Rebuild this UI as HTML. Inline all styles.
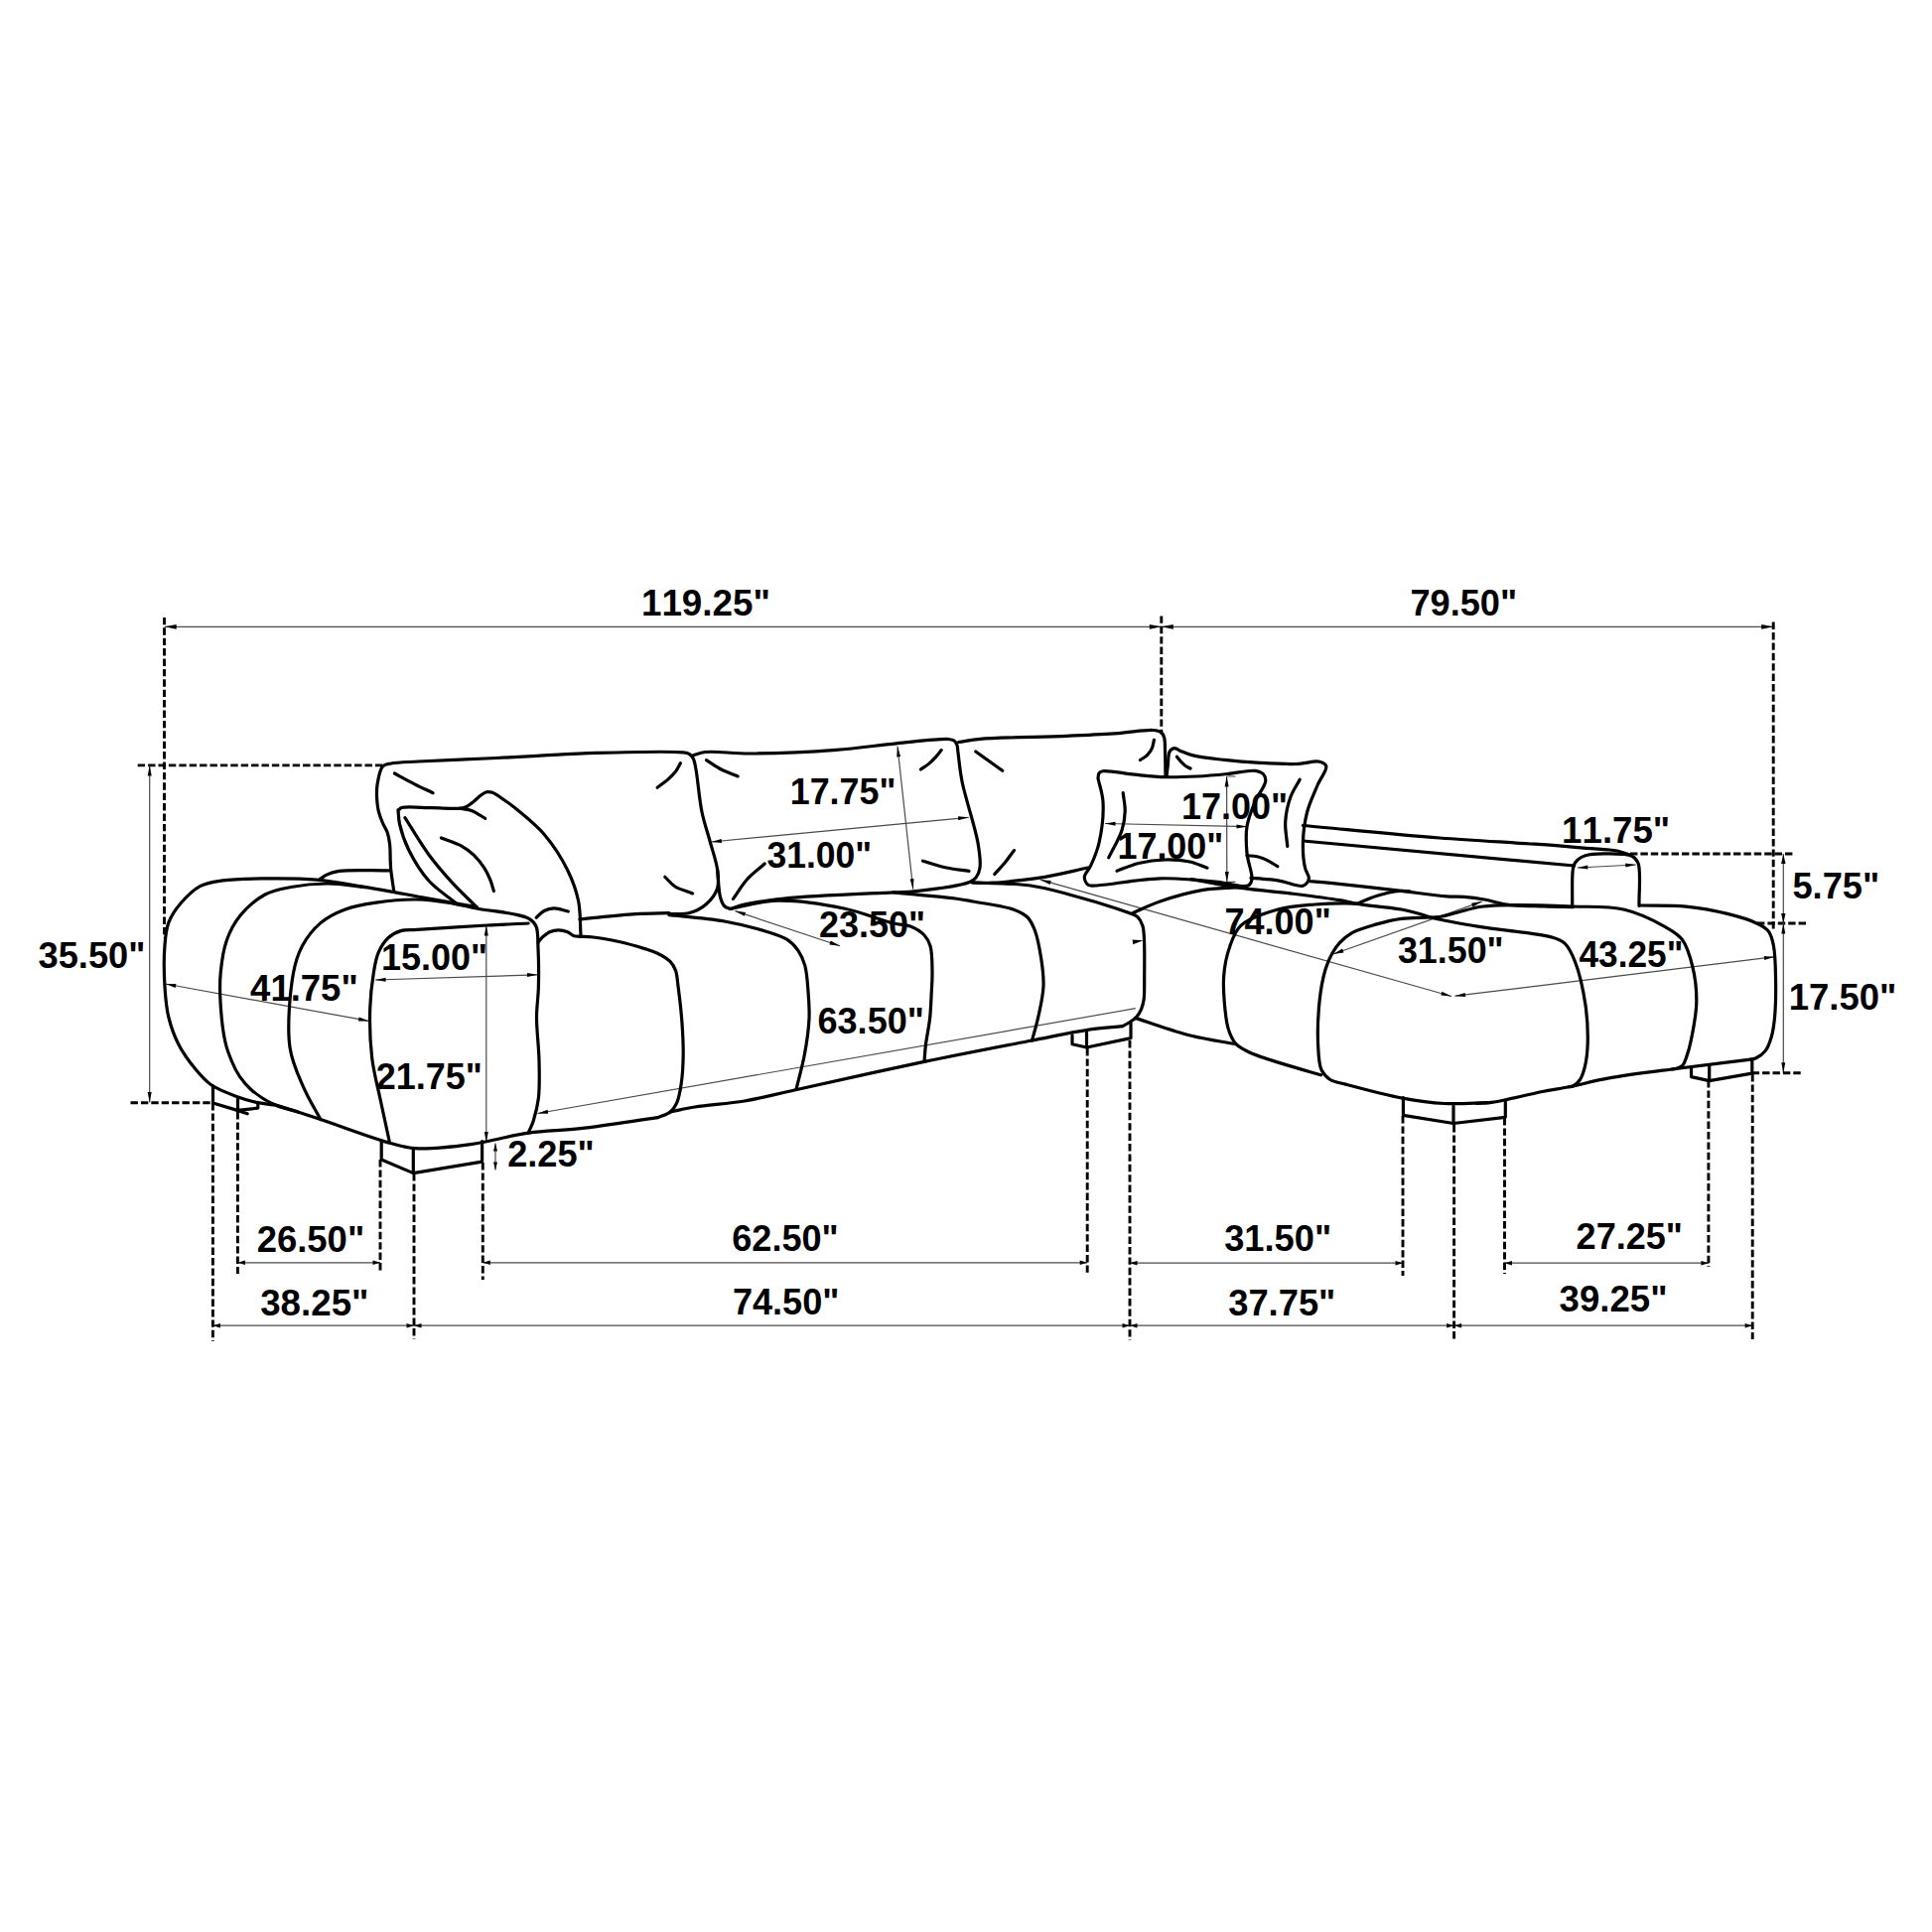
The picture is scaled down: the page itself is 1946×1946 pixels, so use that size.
<!DOCTYPE html>
<html><head><meta charset="utf-8"><style>
html,body{margin:0;padding:0;background:#fff;}
svg{display:block;}
path{fill:none;stroke:#000;stroke-linecap:round;stroke-linejoin:round;}
path.dl{stroke:#4a4a4a;stroke-width:1.2;stroke-linecap:butt;}
path.ah{fill:#000;stroke:none;}
path.ds{stroke:#000;stroke-width:2.9;stroke-dasharray:7.4 3;stroke-linecap:butt;}
text{font-family:"Liberation Sans",sans-serif;font-weight:bold;font-kerning:none;font-size:37.5px;fill:#000;}
</style></head><body>
<svg width="1946" height="1946" viewBox="0 0 1946 1946">
<rect width="1946" height="1946" fill="#fff"/>
<path class="dl" d="M165.7 631.3 L1169.8 631.3"/>
<path class="ah" d="M165.7 631.3 L177.7 628.9 L177.7 633.7 Z"/>
<path class="ah" d="M1169.8 631.3 L1157.8 633.7 L1157.8 628.9 Z"/>
<path class="dl" d="M1169.8 631.3 L1786.2 631.3"/>
<path class="ah" d="M1169.8 631.3 L1181.8 628.9 L1181.8 633.7 Z"/>
<path class="ah" d="M1786.2 631.3 L1774.2 633.7 L1774.2 628.9 Z"/>
<path class="ds" d="M165.5 621.9 L165.5 944.5"/>
<path class="ds" d="M1169.8 620.4 L1169.8 739.4"/>
<path class="ds" d="M1786.2 626.6 L1786.2 938.2"/>
<path class="ds" d="M138.7 770.9 L385.7 770.9"/>
<path class="dl" d="M150.7 771 L150.7 1110.5"/>
<path class="ah" d="M150.7 771 L152.7 781.5 L148.7 781.5 Z"/>
<path class="ah" d="M150.7 1110.5 L148.7 1100 L152.7 1100 Z"/>
<path class="ds" d="M131.5 1110.8 L214.3 1110.8"/>
<path class="ds" d="M1642 860 L1808 860"/>
<path class="ds" d="M1770 930 L1819.5 930"/>
<path class="dl" d="M1796.3 860 L1796.3 930"/>
<path class="ah" d="M1796.3 860 L1798.5 870 L1794.1 870 Z"/>
<path class="ah" d="M1796.3 930 L1794.1 920 L1798.5 920 Z"/>
<path class="dl" d="M1796.3 930 L1796.3 1080.8"/>
<path class="ah" d="M1796.3 930 L1798.3 940.5 L1794.3 940.5 Z"/>
<path class="ah" d="M1796.3 1080.8 L1794.3 1070.3 L1798.3 1070.3 Z"/>
<path class="ds" d="M1764.7 1080.8 L1815.4 1080.8"/>
<path class="dl" d="M239.5 1271.8 L383 1271.8"/>
<path class="ah" d="M239.5 1271.8 L247 1269.5 L247 1274.1 Z"/>
<path class="ah" d="M383 1271.8 L375.5 1274.1 L375.5 1269.5 Z"/>
<path class="dl" d="M486.3 1271.8 L1095.2 1271.8"/>
<path class="ah" d="M486.3 1271.8 L493.8 1269.5 L493.8 1274.1 Z"/>
<path class="ah" d="M1095.2 1271.8 L1087.7 1274.1 L1087.7 1269.5 Z"/>
<path class="dl" d="M1138 1272.2 L1413 1272.2"/>
<path class="ah" d="M1138 1272.2 L1145.5 1269.9 L1145.5 1274.5 Z"/>
<path class="ah" d="M1413 1272.2 L1405.5 1274.5 L1405.5 1269.9 Z"/>
<path class="dl" d="M1515.5 1272.2 L1720.9 1272.2"/>
<path class="ah" d="M1515.5 1272.2 L1523 1269.9 L1523 1274.5 Z"/>
<path class="ah" d="M1720.9 1272.2 L1713.4 1274.5 L1713.4 1269.9 Z"/>
<path class="dl" d="M214.4 1335.2 L417 1335.2"/>
<path class="ah" d="M214.4 1335.2 L221.9 1332.9 L221.9 1337.5 Z"/>
<path class="ah" d="M417 1335.2 L409.5 1337.5 L409.5 1332.9 Z"/>
<path class="dl" d="M417 1335.2 L1138 1335.2"/>
<path class="ah" d="M417 1335.2 L424.5 1332.9 L424.5 1337.5 Z"/>
<path class="ah" d="M1138 1335.2 L1130.5 1337.5 L1130.5 1332.9 Z"/>
<path class="dl" d="M1138 1335.2 L1464.6 1335.2"/>
<path class="ah" d="M1138 1335.2 L1145.5 1332.9 L1145.5 1337.5 Z"/>
<path class="ah" d="M1464.6 1335.2 L1457.1 1337.5 L1457.1 1332.9 Z"/>
<path class="dl" d="M1464.6 1335.2 L1765.2 1335.2"/>
<path class="ah" d="M1464.6 1335.2 L1472.1 1332.9 L1472.1 1337.5 Z"/>
<path class="ah" d="M1765.2 1335.2 L1757.7 1337.5 L1757.7 1332.9 Z"/>
<path class="ds" d="M214.4 1111 L214.4 1351"/>
<path class="ds" d="M239.4 1120 L239.4 1283"/>
<path class="ds" d="M383 1168 L383 1281"/>
<path class="ds" d="M417 1182 L417 1349"/>
<path class="ds" d="M486.3 1171 L486.3 1289"/>
<path class="ds" d="M1095.2 1056 L1095.2 1282"/>
<path class="ds" d="M1138 1048 L1138 1350"/>
<path class="ds" d="M1413 1124 L1413 1285"/>
<path class="ds" d="M1464.6 1133 L1464.6 1351"/>
<path class="ds" d="M1515.5 1126 L1515.5 1283"/>
<path class="ds" d="M1720.9 1088 L1720.9 1276"/>
<path class="ds" d="M1765.2 1082 L1765.2 1349"/>
<path class="dl" d="M904 751.8 L919.7 895.7"/>
<path class="ah" d="M904 751.8 L907.1 762 L903.2 762.5 Z"/>
<path class="ah" d="M919.7 895.7 L916.6 885.5 L920.5 885 Z"/>
<path class="dl" d="M716.4 848 L975.6 823.3"/>
<path class="ah" d="M716.4 848 L726.7 845 L727 849 Z"/>
<path class="ah" d="M975.6 823.3 L965.3 826.3 L965 822.3 Z"/>
<path class="dl" d="M740.4 917.6 L846 952.8"/>
<path class="ah" d="M740.4 917.6 L751 919 L749.7 922.8 Z"/>
<path class="ah" d="M846 952.8 L835.4 951.4 L836.7 947.6 Z"/>
<path class="dl" d="M378 987 L541.5 981.8"/>
<path class="ah" d="M378 987 L388.4 984.7 L388.6 988.7 Z"/>
<path class="ah" d="M541.5 981.8 L531.1 984.1 L530.9 980.1 Z"/>
<path class="dl" d="M166.7 991 L371.6 1028.4"/>
<path class="ah" d="M166.7 991 L177.4 990.9 L176.7 994.9 Z"/>
<path class="ah" d="M371.6 1028.4 L360.9 1028.5 L361.6 1024.5 Z"/>
<path class="dl" d="M489.8 932 L489.8 1150.5"/>
<path class="ah" d="M489.8 932 L491.8 942.5 L487.8 942.5 Z"/>
<path class="ah" d="M489.8 1150.5 L487.8 1140 L491.8 1140 Z"/>
<path class="dl" d="M499 1151.5 L499 1178.5"/>
<path class="ah" d="M499 1151.5 L501 1159.5 L497 1159.5 Z"/>
<path class="ah" d="M499 1178.5 L497 1170.5 L501 1170.5 Z"/>
<path class="dl" d="M541.5 1121.5 L1143.7 1015.7"/>
<path class="ah" d="M541.5 1121.5 L551.5 1117.7 L552.2 1121.7 Z"/>
<path class="ah" d="M1140.6 946.6 L1151.5 947.3 L1141.2 951.3 Z"/>
<path class="dl" d="M1113 829.5 L1256 832.6"/>
<path class="ah" d="M1113 829.5 L1123.5 827.7 L1123.5 831.7 Z"/>
<path class="ah" d="M1256 832.6 L1245.5 834.4 L1245.5 830.4 Z"/>
<path class="dl" d="M1235.6 781.9 L1235.8 888.4"/>
<path class="ah" d="M1235.6 781.9 L1237.6 792.4 L1233.6 792.4 Z"/>
<path class="ah" d="M1235.8 888.4 L1233.8 877.9 L1237.8 877.9 Z"/>
<path class="dl" d="M1235.7 782 L1244.5 782 M1235.8 888.4 L1244.5 888.4"/>
<path class="dl" d="M1048.1 886.2 L1462 1003.5"/>
<path class="ah" d="M1048.1 886.2 L1058.7 887.1 L1057.7 891 Z"/>
<path class="ah" d="M1462 1003.5 L1451.4 1002.6 L1452.4 998.7 Z"/>
<path class="dl" d="M1588.8 874 L1647.8 871"/>
<path class="ah" d="M1588.8 874 L1599.2 871.5 L1599.4 875.5 Z"/>
<path class="ah" d="M1647.8 871 L1637.4 873.5 L1637.2 869.5 Z"/>
<path class="dl" d="M1342.9 961 L1492.7 908.1"/>
<path class="ah" d="M1342.9 961 L1352.1 955.6 L1353.5 959.4 Z"/>
<path class="ah" d="M1492.7 908.1 L1483.5 913.5 L1482.1 909.7 Z"/>
<path class="dl" d="M1465.5 1003.2 L1787.5 963.8"/>
<path class="ah" d="M1465.5 1003.2 L1475.7 999.9 L1476.2 1003.9 Z"/>
<path class="ah" d="M1787.5 963.8 L1777.3 967.1 L1776.8 963.1 Z"/>
<text transform="translate(645.9 620) scale(0.982 1)">119.25&quot;</text>
<text transform="translate(1420.4 620.2) scale(0.965 1)">79.50&quot;</text>
<text transform="translate(38.5 974.5) scale(0.967 1)">35.50&quot;</text>
<text transform="translate(252.1 1007.5) scale(0.973 1)">41.75&quot;</text>
<text transform="translate(383.9 977.3) scale(0.960 1)">15.00&quot;</text>
<text transform="translate(378.7 1096.7) scale(0.960 1)">21.75&quot;</text>
<text transform="translate(511.2 1175.4) scale(0.965 1)">2.25&quot;</text>
<text transform="translate(795.7 810.1) scale(0.956 1)">17.75&quot;</text>
<text transform="translate(772.5 874.4) scale(0.947 1)">31.00&quot;</text>
<text transform="translate(825 944) scale(0.960 1)">23.50&quot;</text>
<text transform="translate(823.5 1041.1) scale(0.962 1)">63.50&quot;</text>
<text transform="translate(1189.9 824.8) scale(0.960 1)">17.00&quot;</text>
<text transform="translate(1125.4 865.2) scale(0.959 1)">17.00&quot;</text>
<text transform="translate(1233.5 941) scale(0.961 1)">74.00&quot;</text>
<text transform="translate(1573.1 849.4) scale(0.978 1)">11.75&quot;</text>
<text transform="translate(1805.4 905.3) scale(0.967 1)">5.75&quot;</text>
<text transform="translate(1407.9 969.7) scale(0.956 1)">31.50&quot;</text>
<text transform="translate(1590.5 973.8) scale(0.940 1)">43.25&quot;</text>
<text transform="translate(1801.7 1016.6) scale(0.974 1)">17.50&quot;</text>
<text transform="translate(258.7 1260.5) scale(0.972 1)">26.50&quot;</text>
<text transform="translate(737.3 1259.9) scale(0.962 1)">62.50&quot;</text>
<text transform="translate(1233.2 1260.1) scale(0.967 1)">31.50&quot;</text>
<text transform="translate(1587.6 1258.1) scale(0.962 1)">27.25&quot;</text>
<text transform="translate(262.2 1324.7) scale(0.979 1)">38.25&quot;</text>
<text transform="translate(737.9 1323.8) scale(0.963 1)">74.50&quot;</text>
<text transform="translate(1237.2 1324.7) scale(0.969 1)">37.75&quot;</text>
<text transform="translate(1570.6 1321.4) scale(0.976 1)">39.25&quot;</text>
<path d="M275.4 1113 C269.7 1112.1 264.1 1111.7 258.3 1110.4 C252 1109 245.8 1107.2 239 1104.7 C230.8 1101.7 220.1 1097.8 212.8 1092.8 C206.4 1088.4 202.1 1083.2 197 1077 C191 1069.7 184.2 1060.4 179.6 1051.4 C175.2 1042.7 172 1033.5 169.7 1024 C167.4 1014.4 166.7 1005 166 994.2 C165.2 981.4 165 963.8 166 952 C166.7 943.3 167.1 936.6 169.7 929.6 C172.4 922.5 176.9 915.8 182.1 909.8 C187.6 903.4 194.7 896.2 202 892.4 C208.8 888.8 215.5 888.2 224.3 886.9 C236.6 885.1 253.7 885.1 269 884.9 C285.1 884.7 302.3 884.7 318.8 886.1 C335.4 887.5 351 890.7 368.4 893.6 C388 896.8 411 901.3 430.6 904.8 C448.1 907.9 463.7 910.6 480.2 913.5" stroke-width="3.2"/>
<path d="M300 1120 C291.8 1117.4 283.2 1115.9 275.4 1112.2 C267.4 1108.4 258.6 1102.6 252.6 1097.3 C247.8 1093.1 244.5 1088.8 241.3 1084.2 C238.3 1079.7 236.1 1075.2 233.9 1070 C231.3 1064 228.8 1058 227 1050 C224.4 1038.9 222.7 1021.5 222 1009 C221.4 998.5 221.2 989.9 222.2 980 C223.2 969.3 224.8 957 228.4 947 C231.7 937.8 236 929.6 242.1 922.1 C248.6 914.1 258.1 905.8 267 901 C275.1 896.6 283.5 895.3 293 893.5 C304.2 891.4 317.6 890 330 890 C342.7 890 355.6 892.4 368.4 893.6" stroke-width="3.2"/>
<path d="M323 1127.7 C317.5 1117.4 311.3 1108 306.4 1096.7 C300.9 1084 294.3 1071.2 292 1055 C289 1033.9 292.1 998.5 295.5 980 C297.6 968.6 299.8 961.5 304.2 953.2 C308.8 944.6 315.5 935.9 322.9 929.6 C330.1 923.5 338.7 919.3 347.7 915.9 C357.2 912.3 367.6 910.7 378.8 909.1 C391.5 907.2 406.8 905.8 420 906 C432.2 906.2 444.3 908.1 455.3 909.8 C465 911.3 472.8 913.8 482.5 915.5 C493.4 917.4 508.2 918.6 517.4 920.7 C523.7 922.1 529 922.9 532.9 925.4 C536.1 927.4 538.4 929.4 540 933 C542.3 938.2 541.6 946.6 542 955 C542.6 966.1 542.7 981.8 542.4 994 C542.1 1004.9 540.5 1013.8 540.5 1025 C540.5 1038.2 542.7 1054.1 543 1068 C543.3 1081.1 543.7 1095.1 542.4 1106 C541.4 1114.5 539.4 1122 537.4 1128.4 C535.9 1133.3 533.9 1136.9 532.2 1141.2" stroke-width="3.2"/>
<path d="M532.2 930 C518.4 930.7 506.4 931.1 490.8 932 C470.3 933.1 435.3 935.4 420 936.4 C412.6 936.9 408.5 936.1 403.6 937.6 C399 939 394.8 941.2 391.2 944.5 C387.2 948.2 383.7 953.8 381.2 959.4 C378.5 965.5 377.6 972.1 376.3 980 C374.6 990.3 373.1 1003 372.7 1016 C372.2 1031.2 372.8 1049.9 374.7 1065.6 C376.4 1080.1 380.1 1093 383 1107 C386 1121.3 389.3 1136 392.4 1150.5" stroke-width="3.2"/>
<path d="M275.4 1112.2 C283.6 1114.8 291.9 1117.4 300 1120 C307.8 1122.5 313.3 1124.3 323 1127.5 C340.1 1133.2 375.8 1146.7 393.4 1151.5 C403.7 1154.3 408.3 1156 418.3 1156.7 C433.2 1157.7 455.5 1155.1 474.2 1152.6 C493.4 1150 513.3 1143.9 532.2 1141.2 C550.1 1138.7 565.5 1138.9 584.7 1136.7 C608.1 1134 636.4 1129.4 662.3 1125.7" stroke-width="3.2"/>
<path d="M321.6 886.1 C324.1 884.4 326.1 882.5 329 881.1 C332.5 879.4 335.8 878.3 341.5 877.4 C352.7 875.7 375.4 877 392.4 876.8" stroke-width="3.2"/>
<path d="M214.5 1093.9 L214.5 1111 L239 1118.4 L249.2 1121.8" stroke-width="3.2"/>
<path d="M239.5 1105.3 L239.5 1118.4 L259.8 1116.1 L259.8 1111" stroke-width="3.2"/>
<path d="M384.2 1149.5 L384.2 1168 L416.3 1181.6 L485.6 1170.2 L485.6 1149.5" stroke-width="3.2"/>
<path d="M416.3 1157.8 L416.3 1181.6" stroke-width="3.2"/>
<path d="M1080 1042.9 L1080 1051.8 L1094.5 1055 L1139 1045.6 L1139 1030" stroke-width="3.2"/>
<path d="M1094.5 1040 L1094.5 1055" stroke-width="3.2"/>
<path d="M1413.4 1105.7 L1413.4 1123.3 L1464 1131.5 L1516.3 1125.3 L1516.3 1109.8" stroke-width="3.2"/>
<path d="M1464 1114 L1464 1131.5" stroke-width="3.2"/>
<path d="M1703.5 1075.2 L1703.5 1084.6 L1721.7 1088.6 L1764.8 1081.2 L1764.8 1067.1" stroke-width="3.2"/>
<path d="M1721.7 1073.5 L1721.7 1088.6" stroke-width="3.2"/>
<path d="M396.8 898.1 C395.8 891 394.4 882.4 393.8 876.7 C393.4 872.9 393.4 870.7 393.2 867.1 C393 862.3 393.2 855.6 392.6 850.5 C392.1 846.2 391.4 842.3 390.2 838.6 C389 835.1 386.9 832.4 385.5 829 C383.9 825.3 382.3 821.4 381.3 817.1 C380.2 812.4 379.7 806.5 379.5 801.7 C379.4 797.5 379.4 794.1 380.1 789.8 C381 784.4 382.4 775.2 385.5 771.9 C387.7 769.6 390.2 769.8 393.9 769 C400.3 767.7 409.7 767.7 421.2 767 C440.7 765.9 478 764.6 500 763.5 C515.8 762.7 525.9 762.1 540.8 761.3 C558.8 760.4 578.8 759 600.6 758.4 C626.9 757.7 675.1 756.4 687.7 757.9 C691.3 758.3 692.7 758.4 694.5 759.6 C696.2 760.7 697.5 762.4 698.5 764.5 C699.8 767.2 700.1 770.3 701 775 C702.8 784.5 704.3 805.2 707 818 C709.2 828.7 712.4 837.3 715 847 C717.6 856.7 721.5 867.3 722.6 876 C723.5 882.9 724.4 888.9 722.6 894.7 C720.7 900.6 715.8 906.8 711 911 C706.4 915 700.6 917.9 694.6 919.5 C688.3 921.2 680.9 920.2 674 920.6" stroke-width="3.2"/>
<path d="M584 926 C602.7 924.2 623.6 921.7 640 920.7 C652.7 919.9 662.7 920 674 919.7" stroke-width="3.2"/>
<path d="M397.4 779 C404.1 782.6 411 786.4 417.6 789.8 C423.9 793 429.9 795.7 436.1 798.7" stroke-width="3.2"/>
<path d="M662.1 793.2 C665.6 790.6 669.4 788.1 672.5 785.4 C675.4 782.9 678 780.4 680.2 777.6 C682.3 774.8 683.7 771.6 685.4 768.6" stroke-width="3.2"/>
<path d="M669.8 883.3 C673.2 886.5 675.8 890.3 680 893 C684.9 896.1 691.8 897.6 697.7 899.9" stroke-width="3.2"/>
<path d="M697.2 761.2 C701.6 760 704.6 758.2 710.3 757.5 C720.7 756.2 737.8 759.1 755.2 759 C779.4 758.9 815.8 757.4 842.2 755.4 C864.3 753.7 883.5 750.7 903 748.8 C921.1 747.1 946.5 743.8 955.2 744.5 C958.1 744.8 959.5 745 961 746 C962.4 747 963.2 748.6 963.9 750.3 C964.7 752.4 964.5 754.6 965 758 C965.9 764.6 966.7 775.6 969 787 C972.3 803.9 982.3 832.9 985 849 C986.7 859.1 988 867.6 987 874 C986.4 878.2 985 881.5 983 884 C981.3 886.1 980 887.1 976.6 888.5 C967.4 892.3 934.8 896.3 920.7 897.8 C912.2 898.7 909.6 898.3 900 898.8 C877.8 900 817.8 902.1 789.9 905 C772.7 906.8 758.1 909 748.4 911.3 C743 912.6 740.1 914 736 915.4" stroke-width="3.2"/>
<path d="M722.6 876 C723.6 885.3 723.7 897.4 725.6 904 C726.7 908 728 911.1 730 913 C731.6 914.5 734 914.6 736 915.4" stroke-width="3.2"/>
<path d="M711.5 765.6 C716.5 768.7 721.2 772.3 726.4 775 C731.7 777.7 737.6 779.6 743.2 781.9" stroke-width="3.2"/>
<path d="M738.5 905.4 C743.2 898.9 747.2 891.7 752.5 885.8 C757.8 879.9 764.3 875.3 770.2 870" stroke-width="3.2"/>
<path d="M927.4 775 C930.4 772.9 933.7 770.9 936.4 768.6 C938.8 766.5 940.9 764.3 942.9 762.1 C944.8 760 946.4 757.8 948.1 755.6" stroke-width="3.2"/>
<path d="M929.5 867.2 C936.9 869.4 944.2 872 951.8 873.7 C959.6 875.4 967.9 876.2 976 877.4" stroke-width="3.2"/>
<path d="M965.5 747.5 C972.8 746.5 977.6 745.3 987.3 744.4 C1006.6 742.7 1049 742.4 1074.2 741.3 C1093.7 740.4 1110.4 739.7 1126 738.6 C1138.9 737.7 1153.6 734.9 1161.2 735.5 C1165 735.8 1167.6 736.2 1169.5 737.6 C1171.1 738.8 1171.9 740.6 1172.6 742.8 C1173.6 746.1 1173.3 750.9 1173.5 756 C1173.8 763.2 1173.8 773.3 1174 782" stroke-width="3.2"/>
<path d="M979 888.9 C986 889 992.4 889.5 1000 889.2 C1009.1 888.8 1020.7 887.5 1030 886.4 C1038 885.5 1043.8 884.8 1052.5 883.3 C1064.7 881.2 1081.5 877.1 1096 874" stroke-width="3.2"/>
<path d="M982.8 757 L1009.7 776.3" stroke-width="3.2"/>
<path d="M1148.5 765.5 C1150.8 763.9 1153.5 762.6 1155.5 760.6 C1157.5 758.6 1159.2 756.2 1160.4 753.6 C1161.5 751.1 1161.7 748.1 1162.4 745.3" stroke-width="3.2"/>
<path d="M1001.8 880.5 C1005.2 876.7 1008.8 873 1012.1 869 C1015.4 865 1018.3 860.7 1021.4 856.6" stroke-width="3.2"/>
<path d="M401.5 816 C402.5 815.2 402.8 814.2 404.5 813.6 C409.2 811.9 425 813.6 435 813.7 C444.8 813.8 458 815 464 814.2 C466.8 813.8 468 813.5 470 812.5 C472.3 811.4 474.7 809.3 477 807.5 C479.4 805.6 481.7 803 484 801.3 C486 799.8 487.9 798.3 490 797.8 C491.9 797.4 493.8 797.6 496 798.3 C499.2 799.4 503.3 802.8 506.9 805.2 C510.5 807.6 513.1 809.3 517.4 812.8 C525.1 819 539.4 830.2 548.4 840.7 C557.5 851.4 565.9 864.6 571.7 876.5 C576.8 886.9 580.4 896.8 582.6 907.5 C584.9 918.5 584.2 930.3 585 941.7" stroke-width="3.2"/>
<path d="M401 815.9 C401.5 820.6 401.3 824.6 402.5 829.9 C404.2 837.4 407.4 847.4 411.8 856.3 C416.8 866.5 423.9 878.2 432 887.3 C440.1 896.3 451 902.8 460.5 910.6" stroke-width="3.2"/>
<path d="M407.9 823.7 C415.9 836.1 423.7 849.7 432 861 C439.5 871.2 447.2 880 455.3 888.9 C463.3 897.6 471.8 905.4 480.1 913.7" stroke-width="3.2"/>
<path d="M463 814.3 C467.2 815.1 471.4 815.2 475.5 816.7 C480 818.4 484.3 821.8 488.7 824.4" stroke-width="3.2"/>
<path d="M444.4 843.9 C450.9 846.5 458.3 848.6 464 851.7 C469 854.5 473.2 857.5 477.1 861.2 C481.1 865 485 869.9 487.9 874.3 C490.4 878.2 492.2 882.2 493.8 886.2 C495.3 890 496.2 893.7 497.4 897.5" stroke-width="3.2"/>
<path d="M540.2 924.3 C542.8 922 545 919.1 548 917.5 C551 915.9 554.4 914.9 558 914.8 C562.3 914.7 567.5 916.9 572.3 918" stroke-width="3.2"/>
<path d="M1106 784 C1106.3 782.3 1106.1 780 1107 778.8 C1107.8 777.7 1108.8 777.1 1110.7 776.7 C1116.1 775.6 1132.3 779.2 1142.9 780.2 C1153.2 781.2 1163.2 782.4 1173.6 782.7 C1184.2 783 1195.2 782.5 1205.8 782 C1216.2 781.5 1226.5 780.5 1236.5 779.5 C1246.1 778.6 1258 775.4 1264.5 776.4 C1268.1 777 1271 778.1 1272.7 780 C1274.2 781.7 1275 784.1 1274.7 787 C1274.2 792.2 1267.1 800.3 1264 807.7 C1260.8 815.5 1257.3 824 1256 832.6 C1254.6 841.3 1255.2 850.7 1256 859.5 C1256.8 868.3 1261.7 879.8 1261 885.4 C1260.6 888.3 1259.6 890.4 1258 891.6 C1256.5 892.7 1254.7 892.6 1252 892.6 C1246.4 892.6 1236.7 889.6 1226.4 888.4 C1211 886.7 1188.3 884.3 1168.4 884.8 C1147.3 885.3 1114 891.9 1103.2 892 C1099.6 892 1097.8 892.6 1096 891.3 C1094 889.9 1092.2 886.2 1092.3 883.3 C1092.4 879.8 1096.7 876.3 1098.8 871.7 C1101.6 865.5 1105 857.8 1107 849 C1109.6 837.4 1111.7 819.5 1111 807.7 C1110.5 798.7 1107.7 791.9 1106 784" stroke-width="3.2"/>
<path d="M1116.7 863.9 C1121.2 854.6 1127.4 844.5 1130.1 835.9 C1132.2 829.2 1133 823.5 1133.2 817.3 C1133.4 811.1 1131.9 804.9 1131.2 798.7" stroke-width="3.2"/>
<path d="M1125 877.3 C1132.2 874.7 1139 871.4 1146.7 869.5 C1155.1 867.5 1164.8 866.2 1173.6 866 C1182 865.8 1190.9 866.4 1198.4 868 C1204.9 869.4 1210.1 872.1 1216 874.2" stroke-width="3.2"/>
<path d="M1175 782 C1175.5 778 1175.9 774.1 1176.4 770 C1176.9 765.7 1176.5 759.5 1178.2 756.8 C1179.3 755 1181.1 753.8 1182.7 753.6 C1184.4 753.4 1185.9 755 1188.1 755.9 C1191.6 757.3 1196.1 759.5 1201.7 760.9 C1210 763 1222.5 764.2 1233.4 765.4 C1245 766.7 1257.5 767.7 1269.6 768.4 C1281.7 769.1 1295.1 769.9 1305.9 769.5 C1314.6 769.2 1324.2 765.8 1329.4 767.2 C1332.4 768 1335.1 769.3 1335.8 771.7 C1336.9 775.7 1329.9 784 1327 791 C1323.6 799.2 1319 808.5 1316.6 818 C1314.1 827.8 1312.6 839.2 1312.4 849 C1312.2 857.8 1313 867.6 1314.5 874 C1315.4 878.2 1318.2 881.3 1318.3 884 C1318.4 885.8 1317.9 887.4 1317 888.7 C1316 890.2 1314.5 891.9 1312 892.4 C1307 893.4 1295.8 888.1 1287.3 886.8 C1278.5 885.4 1269.1 885.1 1260 884.3" stroke-width="3.2"/>
<path d="M1185.4 762.2 C1186.9 764 1188.3 766 1189.9 767.6 C1191.4 769.1 1192.9 770.6 1194.5 771.7 C1195.9 772.7 1197.5 773.2 1199 774" stroke-width="3.2"/>
<path d="M1309.2 785.2 C1306.1 791.1 1302.3 796.2 1299.9 802.8 C1297.2 810.2 1295.2 819.4 1294.7 827.7 C1294.2 835.9 1296.1 844.2 1296.8 852.5" stroke-width="3.2"/>
<path d="M1256 861.8 C1259.3 862.1 1262.8 862.1 1266 862.8 C1269.1 863.5 1272 864.5 1275.1 865.9 C1278.8 867.6 1282.9 870.4 1286.8 872.7" stroke-width="3.2"/>
<path d="M1312.4 831.5 C1358.3 835.7 1408.2 840.8 1450 844 C1484.9 846.7 1518.9 848.3 1546 850.2 C1565.9 851.6 1582.7 853 1597.8 854.3 C1609.5 855.3 1620.5 855.3 1628.8 857 C1634.6 858.2 1638.5 860.1 1643.3 861.6" stroke-width="3.2"/>
<path d="M1312.4 847 L1585.7 872" stroke-width="3.2"/>
<path d="M1583.6 913.3 C1584.1 899.6 1582.6 879.5 1585 872.1 C1586 869 1587.2 867.9 1589 866.2 C1591 864.3 1593 862.8 1596.8 861.7 C1604.5 859.5 1625.8 859.6 1634.2 860.3 C1638.5 860.7 1641.3 860.7 1644 862.3 C1646.5 863.8 1648.6 865.5 1650 869.2 C1653.1 877.2 1650.7 898 1651 912.4" stroke-width="3.2"/>
<path d="M542 949.2 C543.7 947.2 545.3 945 547.2 943.3 C549.1 941.6 551.2 939.9 553.6 938.8 C556.3 937.6 559.7 936.9 562.7 936.9 C565.7 936.9 569 937.7 571.7 938.8 C574.1 939.8 576 942 578.2 942.7 C580.1 943.3 582.1 943.1 584 943.3" stroke-width="3.2"/>
<path d="M584 943.3 C588.5 943.5 592.4 943.4 597.6 944 C604.9 944.8 614.9 946.6 623.5 948.5 C632.2 950.4 642.3 953.4 649.4 955.6 C654.5 957.2 658.1 958.1 662.3 960.2 C666.7 962.4 672.1 965.4 675.2 968.6 C677.8 971.3 679.2 974 680.5 977.5 C682.1 981.9 682.2 986.8 683 993.1 C684.3 1002.7 686 1017.6 686.9 1029.4 C687.7 1040.5 688.3 1051.2 688.2 1061.7 C688.1 1071.8 687.5 1082.7 686.2 1091.5 C685.1 1098.7 684 1105.8 681.7 1110.9 C680 1114.7 678.1 1117.5 675.2 1119.9 C671.9 1122.6 666.6 1123.8 662.3 1125.7" stroke-width="3.2"/>
<path d="M675.2 1119.9 C683.5 1118.3 690.3 1116.5 700 1115 C713.7 1112.8 733.3 1111.8 750 1109 C767.1 1106.1 780.4 1102.3 801.4 1097.7 C834.8 1090.4 889.7 1078 931 1069.4 C968.7 1061.6 1008.6 1054 1039.5 1048 C1062.6 1043.5 1083.2 1039 1100 1036.6 C1111.8 1034.9 1120.3 1034.7 1130.4 1033.7" stroke-width="3.2"/>
<path d="M674 921.7 C676 921.9 677 921.9 680 922.2 C688.5 923.1 714 925.2 729.7 928 C744.2 930.6 759.5 934.5 771 938 C779.5 940.6 786.8 942.5 792.6 946.2 C797.5 949.4 801.2 953.4 804.2 957.8 C807.2 962.2 809.2 966.8 810.8 972.7 C812.9 980.3 813.4 991 814.1 1000 C814.8 1008.7 815.4 1016.6 815 1025.9 C814.5 1037 812.6 1050.1 810.4 1062 C808.2 1073.9 804.8 1085.5 802 1097.3" stroke-width="3.2"/>
<path d="M735 915.5 C751 912.7 765.6 907.7 783 907.2 C803.4 906.6 829.5 910.8 850 915 C868.1 918.7 887.7 927.1 900 930 C907.1 931.7 911.8 931 917 933 C922.1 935 927.6 938.4 931 942 C933.9 945.1 935.6 948.1 937 952.7 C939.1 959.5 938.9 971.6 939 980 C939.1 987.2 938.6 992.9 938.2 1000 C937.8 1008.1 937.5 1017.3 936.6 1025.9 C935.6 1034.6 933.5 1044 932.5 1051.8 C931.7 1058.1 931.5 1063.3 931 1069" stroke-width="3.2"/>
<path d="M900 898.8 C920.7 900.9 947.5 903.1 962 905 C969.8 906 972.8 906.7 980 908 C990.8 910 1010.7 912.4 1020.6 916 C1026.8 918.3 1031.3 920.4 1035 924 C1038.5 927.5 1040.2 931.6 1042.3 937 C1045.2 944.6 1047.3 956.4 1048.8 966 C1050.2 975.2 1051.4 983.9 1051 993.2 C1050.6 1003.2 1047.9 1014.6 1045.8 1024.2 C1044 1032.7 1041.6 1040.1 1039.5 1048" stroke-width="3.2"/>
<path d="M980 889 C999.3 890 1020.2 889.5 1038 892 C1053.6 894.2 1067 898.4 1081.4 902.2 C1096 906.1 1114.7 911.8 1125 915.2 C1130.8 917.1 1134.6 918.4 1138.4 920 C1141.3 921.2 1143.9 921.8 1145.9 923.7 C1148.1 925.8 1149.8 929.1 1150.9 932.4 C1152.1 936.1 1152.1 939.5 1152.4 944.8 C1153 953.9 1152.8 970.9 1152.7 982.1 C1152.6 991.2 1153 1000.7 1152.1 1007 C1151.5 1010.9 1150.8 1013.4 1149.6 1016.3 C1148.4 1019.2 1146.8 1022 1144.7 1024.3 C1142.6 1026.6 1139.7 1028.4 1137.2 1030 C1134.9 1031.5 1132.7 1032.5 1130.4 1033.7" stroke-width="3.2"/>
<path d="M1140.9 919.6 C1150.1 915.7 1158 911.5 1168.4 908 C1181.1 903.6 1197.4 898.8 1211.9 896.4 C1226 894 1240.2 894.4 1254.3 893.4" stroke-width="3.2"/>
<path d="M1200 885.6 C1216.7 888.5 1233.3 891.9 1250 894.3 C1266.6 896.7 1283.1 897.8 1299.7 899.9 C1316.3 902 1337.1 904.6 1349.4 906.7 C1356.7 908 1360.8 909.4 1366.8 910.4 C1373.2 911.5 1379.6 912 1386.6 912.9 C1394.4 913.9 1403.9 914.6 1411.5 916 C1418.2 917.2 1424.3 918.9 1430 920.5 C1435 921.9 1437.8 923.2 1443.8 924.7 C1454.6 927.4 1472.8 930.5 1490 933.4 C1511.7 937 1549.8 939.8 1563.9 944.2 C1570 946.1 1572.8 947 1576.3 950.4 C1580.7 954.6 1583.6 961.3 1586.6 969 C1591 980.2 1594.9 998.4 1597 1012.5 C1598.9 1025.6 1599.5 1039.9 1599.2 1051 C1598.9 1059.6 1598.1 1067.2 1596.5 1073.8 C1595.2 1079.2 1593.5 1084.5 1591.1 1088 C1589.2 1090.7 1586.5 1093 1584.4 1094 C1583 1094.7 1581.7 1094.5 1580.4 1094.7" stroke-width="3.2"/>
<path d="M1330.4 1082.8 C1318 1079.2 1305.3 1075.7 1293.2 1071.9 C1281.5 1068.2 1267.7 1064.4 1259 1060.3 C1253.1 1057.5 1248.4 1055.2 1245 1051.7 C1242 1048.6 1240.4 1044.6 1238.8 1040.9 C1237.3 1037.4 1236.6 1034.9 1235.7 1030 C1234 1020 1231.7 997.9 1232.6 984.2 C1233.3 972.8 1235.5 962.3 1238.8 953.2 C1241.6 945.3 1243.8 938 1250 932.2 C1258.2 924.7 1274.6 919.5 1287.3 916 C1299.5 912.6 1312.6 912 1324.5 911 C1335.3 910.1 1347.8 909.7 1355.6 909.8 C1360.3 909.8 1363.1 910.2 1366.8 910.4" stroke-width="3.2"/>
<path d="M1500 1110.7 C1484.9 1111 1469.5 1112.3 1454.7 1111.5 C1440.4 1110.7 1427.7 1108.9 1412.7 1106.1 C1395 1102.8 1368.4 1095.6 1355.3 1092.1 C1348.5 1090.3 1343.9 1090.1 1339.8 1087.5 C1336.1 1085.2 1333.2 1082 1331.2 1078.1 C1328.9 1073.5 1328.7 1068.3 1328.1 1061.1 C1327.1 1048.7 1327.4 1025.2 1328.9 1010 C1330.1 997.6 1332.3 985.6 1335 976.5 C1337 969.9 1339.3 964.7 1342 960 C1344.2 956 1346.4 952.8 1349.4 949.6 C1352.8 946 1356.7 942.5 1361.8 939.6 C1368.4 935.9 1378.3 933.3 1386.6 930.9 C1394.8 928.5 1403.2 926.4 1411.5 925.3 C1419.7 924.2 1429.3 924.4 1436.3 924.1 C1441.5 923.9 1445 924.2 1450 923.5 C1456.1 922.6 1463.3 920.2 1470 918.5 C1476.7 916.8 1483.3 914.6 1490 913.5 C1496.6 912.4 1501.2 912.1 1510 911.8 C1526.8 911.2 1561 912.1 1583.5 913 C1602.6 913.7 1620.1 912.4 1636.3 916.2 C1651.3 919.7 1667.3 927.8 1677.7 933.8 C1684.8 937.9 1690 940.6 1694.3 946.3 C1699.4 953.1 1702.3 963.5 1704.7 973.2 C1707.4 984 1708.9 996.4 1708.8 1008.4 C1708.7 1021 1705.6 1036.6 1703.5 1046.9 C1702.1 1053.9 1700.5 1059.6 1698.8 1064.4 C1697.5 1067.9 1696.8 1071.2 1694.8 1073.2 C1693 1075 1690 1075.9 1688 1076.5 C1686.5 1076.9 1685.3 1076.8 1684 1077" stroke-width="3.2"/>
<path d="M1318.3 887.5 C1325.5 888.1 1330.8 888.5 1340 889.4 C1356.3 891 1386.6 894.4 1407.3 896.8 C1425.2 898.9 1444.7 902 1457.1 902.9 C1464.4 903.4 1468.6 902.8 1474.6 903.3 C1481.2 903.8 1488 904.7 1495 906 C1502.4 907.3 1509.1 910 1517.7 911.2 C1528.6 912.7 1543.6 912.6 1555.3 913 C1565.6 913.4 1574.6 913.4 1584.3 913.6" stroke-width="3.2"/>
<path d="M1366.9 910.3 C1373.6 907.6 1380.1 904.3 1387.1 902.2 C1394.4 900 1403.9 898 1410 897.5 C1414 897.2 1416.7 897.8 1420 897.9" stroke-width="3.2"/>
<path d="M1652 912 C1667.5 912.4 1683.4 911.6 1698.4 913.1 C1712.7 914.5 1727.4 917.3 1739.9 920.4 C1750.5 923 1761.3 926.1 1768.8 929.7 C1774 932.2 1778.4 934.2 1781.3 938 C1784.3 941.8 1785.2 946.7 1786.4 952.5 C1788.1 960.8 1788.3 972.4 1788.5 983.5 C1788.8 996.3 1788.6 1013.8 1787.5 1025 C1786.8 1032.6 1786 1038.4 1784.3 1044.2 C1782.8 1049.4 1781 1054.7 1778.2 1058.4 C1775.7 1061.7 1771.6 1064.4 1768.8 1065.8 C1766.9 1066.7 1765.2 1066.7 1763.4 1067.1" stroke-width="3.2"/>
<path d="M1487.3 1111.3 C1491.5 1111.1 1495.8 1111.1 1500 1110.7 C1504.1 1110.3 1506.8 1109.8 1512 1108.8 C1521.7 1106.9 1541.1 1102 1553.5 1099.5 C1563.4 1097.5 1570.5 1096.7 1580.4 1094.7 C1592.5 1092.3 1605.6 1088.6 1620.8 1085.9 C1640.3 1082.4 1664.9 1079.5 1688 1076.5 C1712.4 1073.3 1738.3 1070.2 1763.4 1067.1" stroke-width="3.2"/>
<path d="M1144 1025.6 C1162.7 1031.5 1182.2 1038.7 1200 1043.2 C1215.7 1047.1 1230 1048.9 1245 1051.7" stroke-width="3.2"/>
</svg></body></html>
